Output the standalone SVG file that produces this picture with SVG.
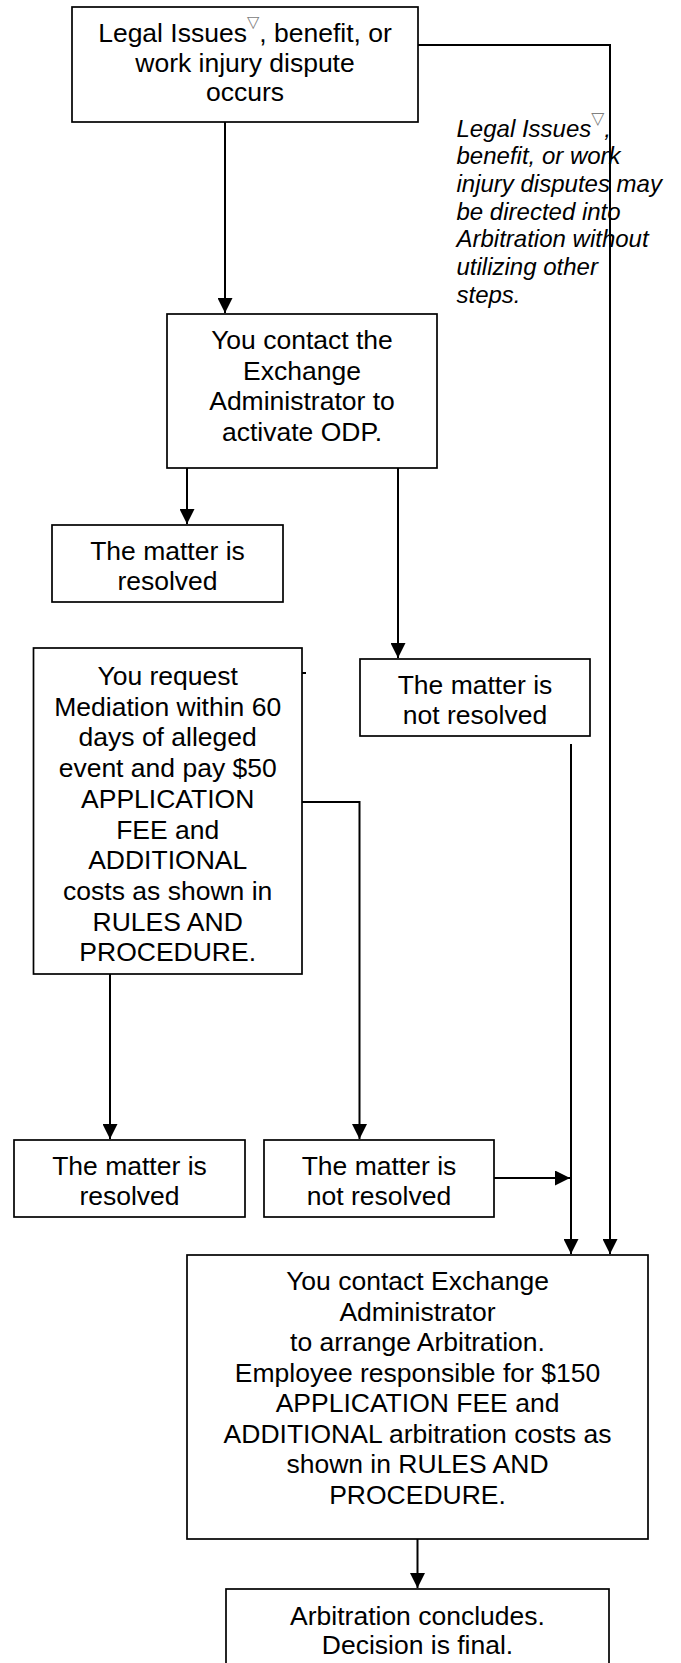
<svg xmlns="http://www.w3.org/2000/svg" width="681" height="1663" viewBox="0 0 681 1663">
<style>
.box{fill:#fff;stroke:#000;stroke-width:1.7}
.t{font-family:"Liberation Sans",Arial,Helvetica,sans-serif;font-size:26.5px;fill:#000;text-anchor:middle}
.note{font-family:"Liberation Sans",Arial,Helvetica,sans-serif;font-size:24px;font-style:italic;fill:#000}
.sym{font-family:"DejaVu Sans",sans-serif;fill:#808080;font-style:normal}
.c{fill:none;stroke:#000;stroke-width:2}
.ca{fill:none;stroke:#000;stroke-width:2;marker-end:url(#arr)}
</style>
<defs>
<marker id="arr" markerUnits="userSpaceOnUse" markerWidth="16" markerHeight="15" refX="15" refY="7.5" orient="auto">
<path d="M0,0 L15,7.5 L0,15 z" fill="#000"/>
</marker>
</defs>
<rect width="681" height="1663" fill="#fff"/>

<g id="n-start">
<rect class="box" x="72" y="7" width="346" height="115"/>
<text class="t" x="245" y="42">Legal Issues<tspan class="sym" font-size="16" dy="-15">▽</tspan><tspan dy="15">, benefit, or</tspan></text>
<text class="t" x="245" y="71.5">work injury dispute</text>
<text class="t" x="245" y="101">occurs</text>
</g>

<g id="n-note">
<text class="note" x="456.5" y="136.5">Legal Issues<tspan class="sym" font-size="17" dy="-13">▽</tspan><tspan dy="13">,</tspan></text>
<text class="note" x="456.5" y="164.2">benefit, or work</text>
<text class="note" x="456.5" y="191.9">injury disputes may</text>
<text class="note" x="456.5" y="219.6">be directed into</text>
<text class="note" x="456.5" y="247.3">Arbitration without</text>
<text class="note" x="456.5" y="275">utilizing other</text>
<text class="note" x="456.5" y="302.7">steps.</text>
</g>

<g id="n-odp">
<rect class="box" x="167" y="314" width="270" height="154"/>
<text class="t" x="302" y="349">You contact the</text>
<text class="t" x="302" y="379.5">Exchange</text>
<text class="t" x="302" y="410">Administrator to</text>
<text class="t" x="302" y="440.5">activate ODP.</text>
</g>

<g id="n-resolved1">
<rect class="box" x="52" y="525" width="231" height="77"/>
<text class="t" x="167.5" y="560">The matter is</text>
<text class="t" x="167.5" y="590">resolved</text>
</g>

<g id="n-notresolved1">
<rect class="box" x="360" y="659" width="230" height="77"/>
<text class="t" x="475" y="694">The matter is</text>
<text class="t" x="475" y="724">not resolved</text>
</g>

<g id="n-mediation">
<rect class="box" x="33.5" y="648" width="268.5" height="326"/>
<text class="t" x="167.7" y="685">You request</text>
<text class="t" x="167.7" y="715.7">Mediation within 60</text>
<text class="t" x="167.7" y="746.4">days of alleged</text>
<text class="t" x="167.7" y="777.1">event and pay $50</text>
<text class="t" x="167.7" y="807.8">APPLICATION</text>
<text class="t" x="167.7" y="838.5">FEE and</text>
<text class="t" x="167.7" y="869.2">ADDITIONAL</text>
<text class="t" x="167.7" y="899.9">costs as shown in</text>
<text class="t" x="167.7" y="930.6">RULES AND</text>
<text class="t" x="167.7" y="961.3">PROCEDURE.</text>
</g>

<g id="n-resolved2">
<rect class="box" x="14" y="1140" width="231" height="77"/>
<text class="t" x="129.5" y="1175">The matter is</text>
<text class="t" x="129.5" y="1205">resolved</text>
</g>

<g id="n-notresolved2">
<rect class="box" x="264" y="1140" width="230" height="77"/>
<text class="t" x="379" y="1175">The matter is</text>
<text class="t" x="379" y="1205">not resolved</text>
</g>

<g id="n-arbitration">
<rect class="box" x="187" y="1255" width="461" height="284"/>
<text class="t" x="417.5" y="1290">You contact Exchange</text>
<text class="t" x="417.5" y="1320.5">Administrator</text>
<text class="t" x="417.5" y="1351">to arrange Arbitration.</text>
<text class="t" x="417.5" y="1381.5">Employee responsible for $150</text>
<text class="t" x="417.5" y="1412">APPLICATION FEE and</text>
<text class="t" x="417.5" y="1442.5">ADDITIONAL arbitration costs as</text>
<text class="t" x="417.5" y="1473">shown in RULES AND</text>
<text class="t" x="417.5" y="1503.5">PROCEDURE.</text>
</g>

<g id="n-final">
<rect class="box" x="226" y="1589" width="383" height="100"/>
<text class="t" x="417.5" y="1625">Arbitration concludes.</text>
<text class="t" x="417.5" y="1654">Decision is final.</text>
</g>

<g id="connectors">
<path class="ca" d="M225,122 V313"/>
<path class="ca" d="M418,45 H610 V1254"/>
<path class="ca" d="M187,468 V524"/>
<path class="ca" d="M398,468 V658"/>
<path class="ca" d="M571,744 V1254"/>
<path class="c" d="M302,673 H306"/>
<path class="ca" d="M302,802 H359.5 V1139"/>
<path class="ca" d="M110,974 V1139"/>
<path class="ca" d="M494,1178 H570"/>
<path class="ca" d="M417.5,1539 V1588"/>
</g>
</svg>
